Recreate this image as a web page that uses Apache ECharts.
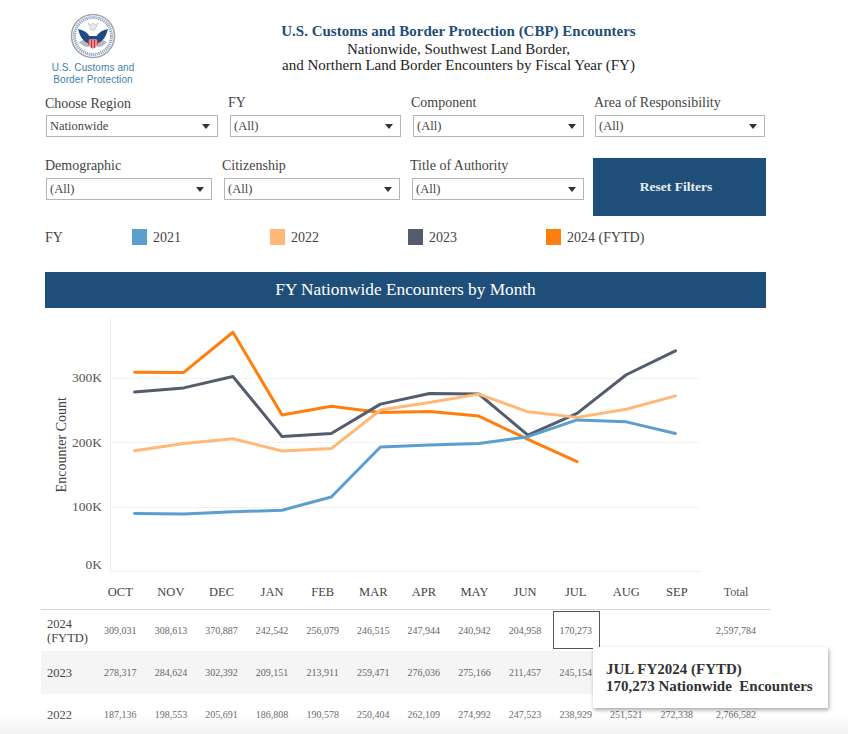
<!DOCTYPE html>
<html>
<head>
<meta charset="utf-8">
<title>CBP Encounters</title>
<script src="https://cdn.jsdelivr.net/npm/echarts@6/dist/echarts.min.js"></script>
<style>
  html, body { margin: 0; padding: 0; background: #fff; }
  body { width: 848px; height: 734px; position: relative; overflow: hidden; font-family: "Liberation Serif", serif; color: #333; }
  #chart { position: absolute; left: 0; top: 0; width: 848px; height: 734px; }
  .abs { position: absolute; white-space: nowrap; }
  .title { left: 200px; width: 517px; text-align: center; font-size: 15px; line-height: 16px; color: #222; }
  .lbl { font-size: 14px; line-height: 16px; color: #444; }
  .sel { position: absolute; box-sizing: border-box; height: 22px; background: #fff; border: 1px solid #b5b5b5; font-size: 12.5px; line-height: 20px; padding-left: 3px; color: #444; }
  .sel:after { content: ""; position: absolute; right: 7px; top: 8px; border-left: 4px solid transparent; border-right: 4px solid transparent; border-top: 5px solid #333; }
  #reset { left: 593px; top: 158px; width: 166px; padding-right: 7px; height: 58px; background: #1f4e79; color: #e8eef4; font-weight: bold; font-size: 13.5px; line-height: 58px; text-align: center; }
  #banner { left: 45px; top: 272px; width: 721px; height: 36px; background: #1f4e79; color: #fff; font-size: 17.3px; line-height: 36px; text-align: center; }
  #tbl { position: absolute; left: 41px; top: 575px; border-collapse: collapse; table-layout: fixed; width: 729px; }
  #tbl td { padding: 0; text-align: center; font-size: 10px; color: #666; height: 41px; }
  #tbl th { padding: 0; text-align: center; font-weight: normal; font-size: 12.5px; color: #444; height: 34px; border-bottom: 1px solid #d4d4d4; }
  #tbl th.tot { font-size: 12px; color: #555; }
  #tbl td.row { text-align: left; padding-left: 6px; font-size: 12.5px; line-height: 14px; color: #444; }
  #tbl tr:nth-child(3) td { background: #f5f5f5; height: 43px; }
  #box { left: 553px; top: 611px; width: 45px; height: 36px; border: 1.5px solid #555; }
  #tip { left: 593px; top: 647px; width: 235px; height: 61px; box-sizing: border-box; padding: 14px 0 0 13px; background: #fff; box-shadow: 1px 2px 4px rgba(0,0,0,.35); font-weight: bold; font-size: 15px; line-height: 17px; color: #333; }
  #fade { left: 0; top: 714px; width: 848px; height: 20px; background: linear-gradient(rgba(238,238,238,0), rgba(238,238,238,.8)); }
  #logoText { left: 33px; width: 120px; top: 62px; text-align: center; font-family: "Liberation Sans", sans-serif; font-size: 10px; line-height: 11.5px; letter-spacing: .1px; color: #3f7fae; }
</style>
</head>
<body>
<div id="chart"></div>

<svg class="abs" style="left:70px;top:13px" width="46" height="46" viewBox="0 0 46 46">
  <circle cx="23" cy="23" r="21.5" fill="#fff" stroke="#a3a6aa" stroke-width="1.6"/>
  <circle cx="23" cy="23" r="18.5" fill="none" stroke="#8fa3c4" stroke-width="3" stroke-dasharray="1.2 .8"/>
  <path d="M9 29 Q15 36 20 33 L26 33 Q31 36 37 29 L33 27 H13Z" fill="#b9b9bd"/>
  <path d="M8 16 Q16 17 20 24 L20 31 Q11 29 8 16Z M38 16 Q30 17 26 24 L26 31 Q35 29 38 16Z" fill="#1f4a86"/>
  <path d="M18 10 L21 17 H25 L28 10 L25 12 L23 10 L21 12Z" fill="#e6e8ec" stroke="#9aa0a8" stroke-width=".4"/>
  <rect x="18" y="23" width="10" height="3.5" fill="#1f4a86"/>
  <path d="M18 26.5 H28 V31 Q26 35 23 36 Q20 35 18 31Z" fill="#c8323c"/>
  <path d="M20 26.5 V34 M23 26.5 V36 M26 26.5 V34" stroke="#fff" stroke-width=".9"/>
</svg>
<div class="abs" id="logoText">U.S. Customs and<br>Border Protection</div>

<div class="abs title" style="top:23px;font-weight:bold;color:#1f4e79">U.S. Customs and Border Protection (CBP) Encounters</div>
<div class="abs title" style="top:41px">Nationwide, Southwest Land Border,</div>
<div class="abs title" style="top:57px">and Northern Land Border Encounters by Fiscal Year (FY)</div>

<div id="filters"></div>
<div class="abs" id="reset">Reset Filters</div>
<div class="abs lbl" style="left:45px;top:230px">FY</div>
<div class="abs" id="banner">FY Nationwide Encounters by Month</div>

<table id="tbl"></table>
<div class="abs" id="box"></div>
<div class="abs" id="fade"></div>
<div class="abs" id="tip">JUL FY2024 (FYTD)<br>170,273 Nationwide&nbsp; Encounters</div>

<script>
var months = ['OCT', 'NOV', 'DEC', 'JAN', 'FEB', 'MAR', 'APR', 'MAY', 'JUN', 'JUL', 'AUG', 'SEP'];

var fy2021 = [90000, 89000, 92500, 95000, 115500, 193000, 196000, 198500, 209000, 235000, 232000, 214000];
var fy2022 = [187136, 198553, 205691, 186808, 190578, 250404, 262109, 274992, 247523, 238929, 251521, 272338];
// AUG and SEP of 2023 sit behind the tooltip in the table
var fy2023 = [278317, 284624, 302392, 209151, 213911, 259471, 276036, 275166, 211457, 245154, 305000, 342000];
var fy2024 = [309031, 308613, 370887, 242542, 256079, 246515, 247944, 240942, 204958, 170273, null, null];

var rowLabels = ['2024<br>(FYTD)', '2023', '2022'];
var rowTotals = ['2,597,784', '', '2,766,582'];

var filterRows = [
    { name: 'Choose Region', value: 'Nationwide', lx: 45, ly: 96, x: 46, y: 115, w: 172 },
    { name: 'FY', value: '(All)', lx: 228, ly: 95, x: 230, y: 115, w: 171 },
    { name: 'Component', value: '(All)', lx: 411, ly: 95, x: 413, y: 115, w: 171 },
    { name: 'Area of Responsibility', value: '(All)', lx: 594, ly: 95, x: 595, y: 115, w: 170 },
    { name: 'Demographic', value: '(All)', lx: 45, ly: 158, x: 46, y: 178, w: 166 },
    { name: 'Citizenship', value: '(All)', lx: 222, ly: 158, x: 224, y: 178, w: 176 },
    { name: 'Title of Authority', value: '(All)', lx: 410, ly: 158, x: 412, y: 178, w: 172 }
];

var html = '';
filterRows.forEach(function (f) {
    html += '<div class="abs lbl" style="left:' + f.lx + 'px;top:' + f.ly + 'px">' + f.name + '</div>';
    html += '<div class="sel" style="left:' + f.x + 'px;top:' + f.y + 'px;width:' + f.w + 'px">' + f.value + '</div>';
});
document.getElementById('filters').innerHTML = html;

function fmt(v) {
    return v == null ? '' : v.toLocaleString('en-US');
}

// the month header belongs to the table: its columns are wider than the chart bands
var tableRows = [fy2024, fy2023, fy2022];
var t = '<colgroup><col style="width:54px">';
months.forEach(function () { t += '<col style="width:50.6px">'; });
t += '<col style="width:67.8px"></colgroup>';
t += '<tr><th></th>';
months.forEach(function (m) { t += '<th>' + m + '</th>'; });
t += '<th class="tot">Total</th></tr>';
tableRows.forEach(function (vals, i) {
    t += '<tr><td class="row">' + rowLabels[i] + '</td>';
    vals.forEach(function (v, j) {
        // 2023 AUG/SEP are covered by the tooltip anyway
        t += '<td>' + (i === 1 && j > 9 ? '' : fmt(v)) + '</td>';
    });
    t += '<td>' + rowTotals[i] + '</td></tr>';
});
document.getElementById('tbl').innerHTML = t;

function lineSeries(name, data, color) {
    return {
        name: name,
        type: 'line',
        data: data,
        symbol: 'none',
        silent: true,
        lineStyle: { width: 3, color: color, join: 'round', cap: 'round' },
        itemStyle: { color: color }
    };
}

var chart = echarts.init(document.getElementById('chart'), null, { renderer: 'svg' });
chart.setOption({
    animation: false,
    textStyle: { fontFamily: 'Liberation Serif' },
    legend: {
        left: 132,
        top: 229,
        padding: 0,
        icon: 'rect',
        itemWidth: 15,
        itemHeight: 16,
        itemGap: 89,
        selectedMode: false,
        data: ['2021', '2022', '2023', '2024 (FYTD)'],
        textStyle: { fontFamily: 'Liberation Serif', fontSize: 14, color: '#444', padding: [1, 0, 0, 1] }
    },
    grid: { left: 110, right: 148, top: 318, bottom: 162.5 },
    xAxis: {
        type: 'category',
        data: months,
        axisLine: { lineStyle: { color: '#eeeeee' } },
        axisTick: { show: false },
        axisLabel: { show: false }
    },
    yAxis: {
        type: 'value',
        min: 0,
        max: 393000,
        interval: 100000,
        name: 'Encounter Count',
        nameLocation: 'middle',
        nameGap: 49,
        nameMoveOverlap: false,
        nameTextStyle: { fontFamily: 'Liberation Serif', fontSize: 14, color: '#444', verticalAlign: 'middle' },
        axisLine: { show: true, lineStyle: { color: '#eeeeee' } },
        axisTick: { show: false },
        axisLabel: {
            fontFamily: 'Liberation Serif',
            fontSize: 13.5,
            color: '#555',
            margin: 8,
            showMaxLabel: false,
            verticalAlignMinLabel: 'bottom',
            formatter: function (v) { return v / 1000 + 'K'; }
        },
        splitLine: { showMaxLine: false, lineStyle: { color: '#f2f2f2' } }
    },
    series: [
        lineSeries('2024 (FYTD)', fy2024, '#ff7f0e'),
        lineSeries('2023', fy2023, '#555c6b'),
        lineSeries('2022', fy2022, '#ffb878'),
        lineSeries('2021', fy2021, '#5a9fce')
    ]
});
</script>
</body>
</html>
